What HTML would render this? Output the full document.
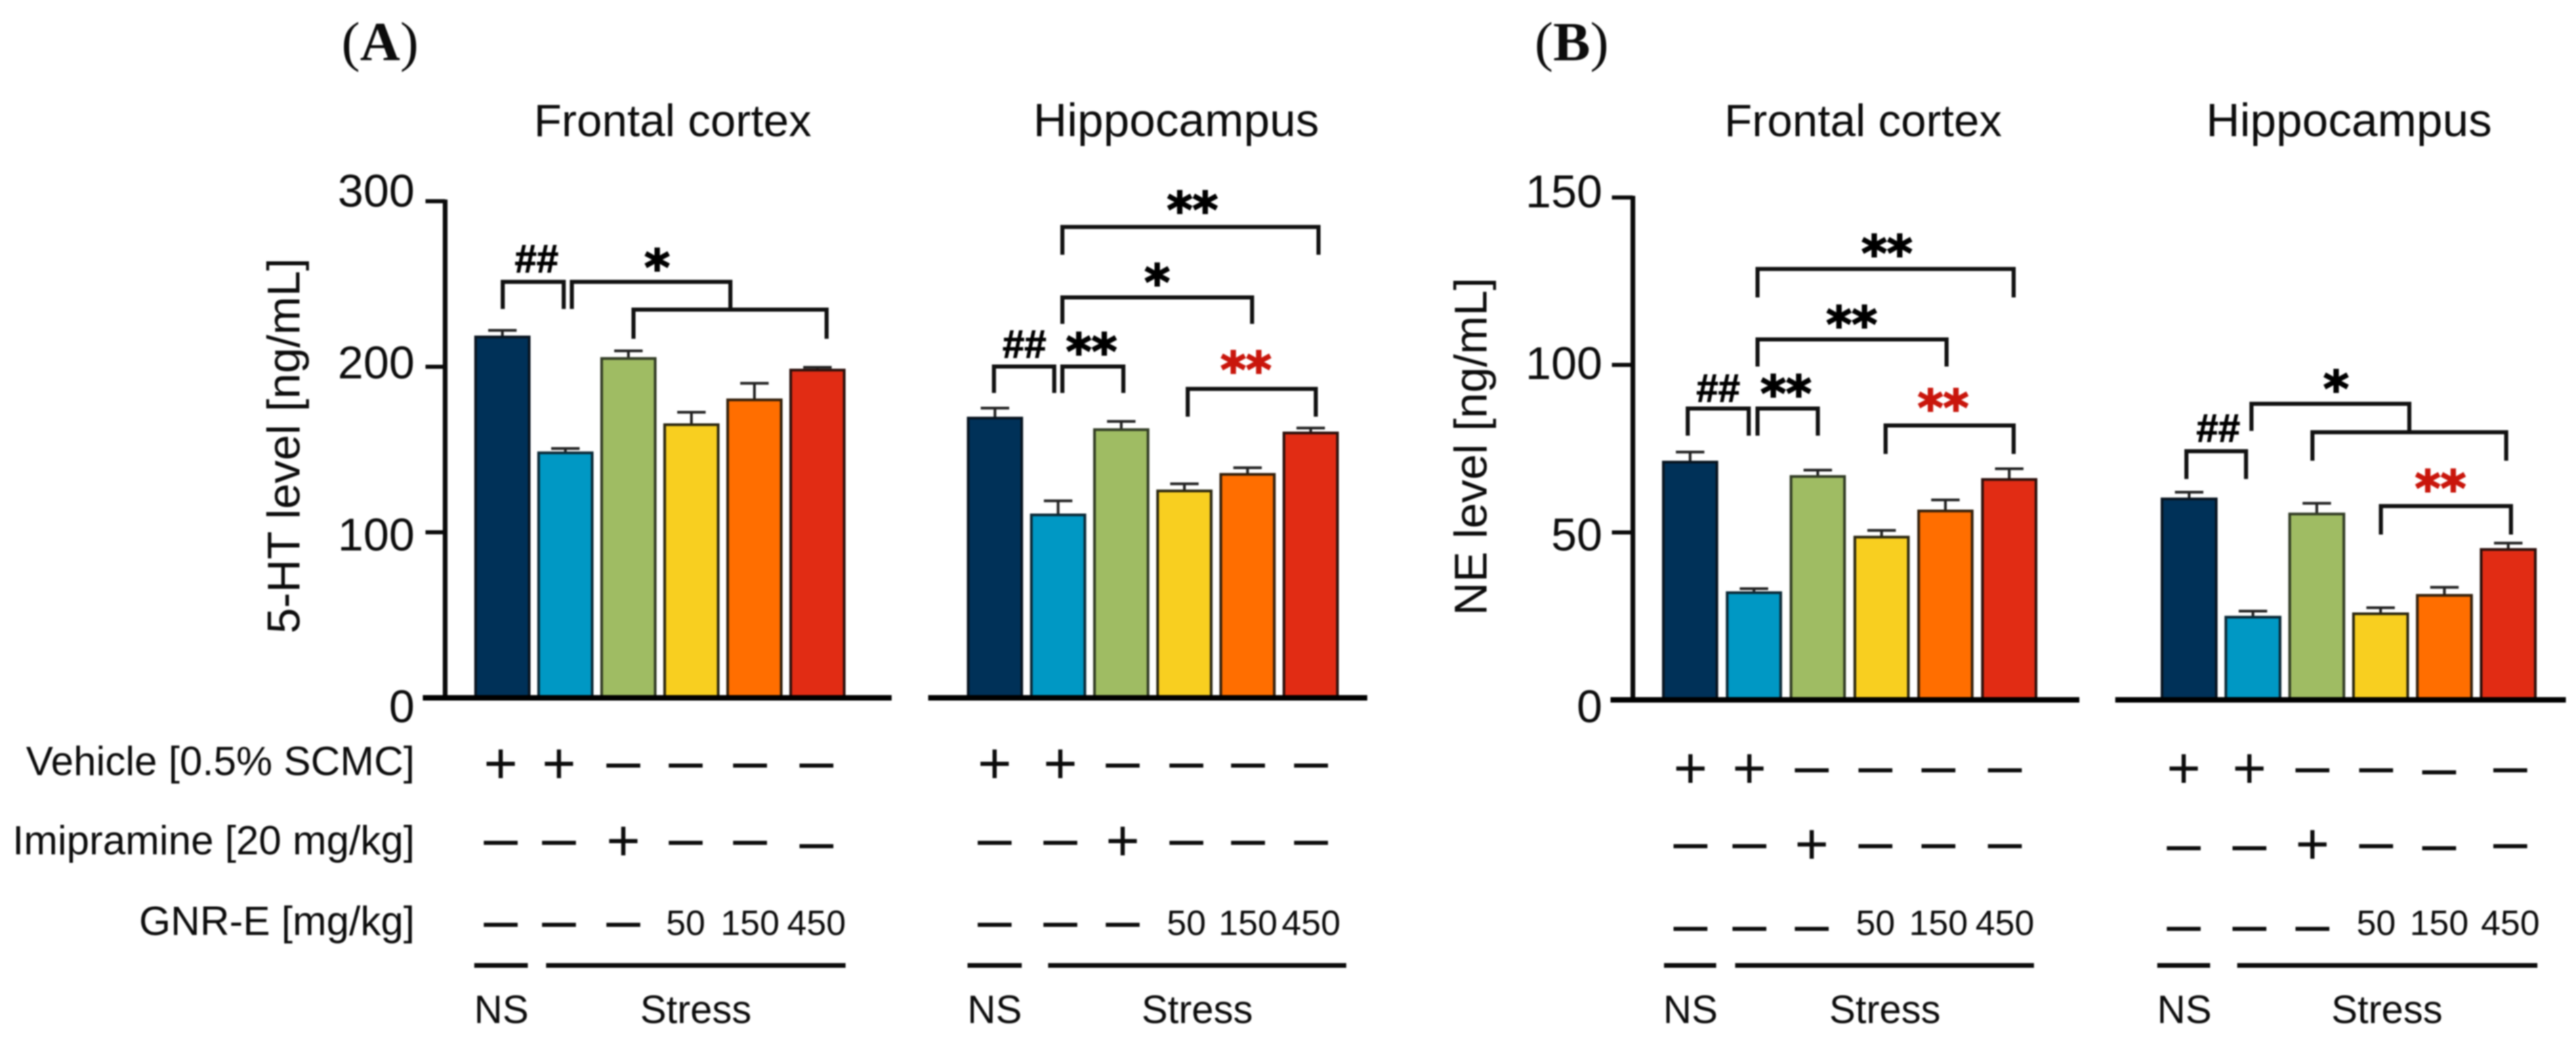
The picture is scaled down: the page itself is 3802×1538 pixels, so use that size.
<!DOCTYPE html>
<html lang="en">
<head>
<meta charset="utf-8">
<title>5-HT and NE levels</title>
<style>
html,body{margin:0;padding:0;background:#fff;}
svg{display:block;filter:blur(1.1px);}
text{font-family:"Liberation Sans",sans-serif;fill:#0c0c0c;}
.br{fill:none;stroke:#111;stroke-width:6;stroke-linejoin:miter;}
.ttl{font-size:67px;}
.lab{font-size:60px;}
.grp{font-size:58px;text-anchor:middle;}
.st{font-family:"DejaVu Sans",sans-serif;font-weight:bold;font-size:72px;text-anchor:middle;fill:#000;stroke:#000;stroke-width:2;}
.st.red{fill:#c9160c;stroke:#c9160c;}
.hh{font-weight:bold;font-size:58px;text-anchor:middle;fill:#000;stroke:#000;stroke-width:1;}
.pl{font-family:"Liberation Serif",serif;font-size:82px;}
.ln{stroke:#0c0c0c;stroke-width:7;}
</style>
</head>
<body>
<svg id="chart" xmlns="http://www.w3.org/2000/svg" width="3802" height="1538" viewBox="0 0 3802 1538">
  <rect x="0" y="0" width="3802" height="1538" fill="#ffffff" style="fill:#fff"/>

  <text class="pl" x="504" y="89">(<tspan font-weight="bold">A</tspan>)</text>
  <text class="pl" x="2265" y="89">(<tspan font-weight="bold">B</tspan>)</text>

  <text class="ttl" x="788" y="201">Frontal cortex</text>
  <text class="ttl" x="1525" y="201" style="font-size:69px">Hippocampus</text>
  <text class="ttl" x="2545" y="201">Frontal cortex</text>
  <text class="ttl" x="3256" y="201" style="font-size:69px">Hippocampus</text>

  <text transform="translate(442,658) rotate(-90)" text-anchor="middle" font-size="68">5-HT level [ng/mL]</text>
  <text transform="translate(2194,659) rotate(-90)" text-anchor="middle" font-size="68">NE level [ng/mL]</text>

  <g id="marks"></g>

  <!-- significance brackets: panel A frontal cortex -->
  <polyline class="br" points="742,456 742,416 832,416 832,456"/>
  <polyline class="br" points="844,456 844,416 1078,416 1078,457"/>
  <polyline class="br" points="935,500 935,457 1220,457 1220,500"/>
  <text class="hh" x="792" y="402">##</text>
  <text class="st" x="970" y="420">*</text>

  <!-- panel A hippocampus -->
  <polyline class="br" points="1568,376 1568,335 1946,335 1946,376"/>
  <polyline class="br" points="1568,478 1568,439 1848,439 1848,478"/>
  <polyline class="br" points="1467,580 1467,541 1556,541 1556,580"/>
  <polyline class="br" points="1568,580 1568,541 1658,541 1658,580"/>
  <polyline class="br" points="1753,615 1753,574 1942,574 1942,615"/>
  <text class="st" x="1760" y="335">**</text>
  <text class="st" x="1708" y="442">*</text>
  <text class="hh" x="1512" y="528">##</text>
  <text class="st" x="1611" y="544">**</text>
  <text class="st red" x="1839" y="571">**</text>

  <!-- panel B frontal cortex -->
  <polyline class="br" points="2594,439 2594,397 2972,397 2972,439"/>
  <polyline class="br" points="2594,541 2594,501 2873,501 2873,541"/>
  <polyline class="br" points="2491,643 2491,603 2581,603 2581,643"/>
  <polyline class="br" points="2594,643 2594,603 2683,603 2683,643"/>
  <polyline class="br" points="2783,670 2783,628 2972,628 2972,670"/>
  <text class="st" x="2785" y="399">**</text>
  <text class="st" x="2733" y="504">**</text>
  <text class="hh" x="2536" y="593">##</text>
  <text class="st" x="2636" y="606">**</text>
  <text class="st red" x="2868" y="627">**</text>

  <!-- panel B hippocampus -->
  <polyline class="br" points="3227,707 3227,666 3315,666 3315,707"/>
  <polyline class="br" points="3323,636 3323,596 3556,596 3556,638"/>
  <polyline class="br" points="3413,680 3413,638 3699,638 3699,680"/>
  <polyline class="br" points="3514,789 3514,747 3706,747 3706,789"/>
  <text class="hh" x="3274" y="652">##</text>
  <text class="st" x="3448" y="599">*</text>
  <text class="st red" x="3602" y="746">**</text>

  <!-- treatment row labels -->
  <text class="lab" x="612" y="1144" text-anchor="end">Vehicle [0.5% SCMC]</text>
  <text class="lab" x="612" y="1261" text-anchor="end">Imipramine [20 mg/kg]</text>
  <text class="lab" x="612" y="1380" text-anchor="end">GNR-E [mg/kg]</text>

  <!-- group underlines and labels -->
  <line class="ln" x1="700" x2="779" y1="1425" y2="1425"/>
  <line class="ln" x1="806" x2="1248" y1="1425" y2="1425"/>
  <line class="ln" x1="1428" x2="1508" y1="1425" y2="1425"/>
  <line class="ln" x1="1547" x2="1987" y1="1425" y2="1425"/>
  <line class="ln" x1="2456" x2="2533" y1="1425" y2="1425"/>
  <line class="ln" x1="2561" x2="3002" y1="1425" y2="1425"/>
  <line class="ln" x1="3184" x2="3262" y1="1425" y2="1425"/>
  <line class="ln" x1="3302" x2="3745" y1="1425" y2="1425"/>

  <text class="grp" x="740" y="1510">NS</text>
  <text class="grp" x="1027" y="1510">Stress</text>
  <text class="grp" x="1468" y="1510">NS</text>
  <text class="grp" x="1767" y="1510">Stress</text>
  <text class="grp" x="2495" y="1510">NS</text>
  <text class="grp" x="2782" y="1510">Stress</text>
  <text class="grp" x="3224" y="1510">NS</text>
  <text class="grp" x="3523" y="1510">Stress</text>
</svg>
<script>
// ---- chart data ----
const categories = ['NS vehicle', 'Stress vehicle', 'Imipramine', 'GNR-E 50', 'GNR-E 150', 'GNR-E 450'];
const htFrontalMeans = [218, 148, 205, 165, 180, 198];
const htFrontalErrors = [4, 2.6, 4.6, 7.5, 10, 1.7];
const htHippocampusMeans = [169, 110.5, 162, 125, 135, 160];
const htHippocampusErrors = [6, 8.5, 5, 4.3, 4, 3];
const neFrontalMeans = [71, 32, 66.7, 48.6, 56.4, 65.8];
const neFrontalErrors = [3, 1.2, 1.9, 2, 3.3, 3.2];
const neHippocampusMeans = [60, 24.7, 55.5, 25.7, 31.2, 44.9];
const neHippocampusErrors = [2, 1.8, 3.2, 1.8, 2.4, 1.9];
const htTickLabels = [0, 100, 200, 300];
const neTickLabels = [0, 50, 100, 150];
const vehicleRow = ['+', '+', '–', '–', '–', '–'];
const imipramineRow = ['–', '–', '+', '–', '–', '–'];
const gnrRow = ['–', '–', '–', '50', '150', '450'];

// ---- layout and axis functions ----
const NS = 'http://www.w3.org/2000/svg';
const root = document.getElementById('marks');
const barColors = ['#003158', '#0098c4', '#9fbc63', '#f8cf20', '#ff6e00', '#e12c14'];
const barStrokes = ['#081420', '#0c2a38', '#333d26', '#2c2812', '#33200c', '#2c100c'];

function htY(v) { return 1030 - v * 733 / 300; }
function neY(v) { return 1033 - v * 741.5 / 150; }
function htLabelY(v) { return 1066 - v * 761 / 300; }
function neLabelY(v) { return 1066 - v * 760 / 150; }
function barLeft(p, i) { return p.x0 + i * p.pitch; }

function make(tag) {
  const el = document.createElementNS(NS, tag);
  root.appendChild(el);
  return el;
}

function drawAxis(key, scale, labelScale, ticks, axisX, tickLeft, labelRight, yEnd) {
  const axis = make('line');
  
  
  axis.setAttribute('x1', axisX);
  axis.setAttribute('x2', axisX);
  axis.setAttribute('y1', scale(ticks[ticks.length - 1]) - 2.5);
  axis.setAttribute('y2', yEnd);
  axis.setAttribute('stroke', '#0a0a0a');
  axis.setAttribute('stroke-width', 7);
  ticks.forEach(function (t) {
    const tick = make('line');
    
    
    tick.setAttribute('x1', tickLeft);
    tick.setAttribute('x2', axisX);
    tick.setAttribute('y1', scale(t));
    tick.setAttribute('y2', scale(t));
    tick.setAttribute('stroke', '#0a0a0a');
    tick.setAttribute('stroke-width', 6);
    const lab = make('text');
    
    
    lab.setAttribute('x', labelRight);
    lab.setAttribute('y', labelScale(t));
    lab.setAttribute('text-anchor', 'end');
    lab.setAttribute('font-size', 68);
    lab.textContent = t;
  });
}

function drawBars(p, means, errors, scale) {
  means.forEach(function (m, i) {
    const x = barLeft(p, i);
    const cx = x + p.width / 2;
    const topY = scale(m);
    const errY = scale(m + errors[i]);

    const stem = make('line');
    
    
    stem.setAttribute('x1', cx);
    stem.setAttribute('x2', cx);
    stem.setAttribute('y1', errY);
    stem.setAttribute('y2', topY);
    stem.setAttribute('stroke', '#222');
    stem.setAttribute('stroke-width', 4);

    const cap = make('line');
    
    
    cap.setAttribute('x1', cx - 21);
    cap.setAttribute('x2', cx + 21);
    cap.setAttribute('y1', errY);
    cap.setAttribute('y2', errY);
    cap.setAttribute('stroke', '#222');
    cap.setAttribute('stroke-width', 4);

    const bar = make('rect');
    
    
    bar.setAttribute('x', x + 2);
    bar.setAttribute('y', topY);
    bar.setAttribute('width', p.width - 4);
    bar.setAttribute('height', scale(0) - topY);
    bar.setAttribute('fill', barColors[i]);
    bar.setAttribute('stroke', barStrokes[i]);
    bar.setAttribute('stroke-width', 4);
  });
}

function drawBaseline(key, x1, x2, y) {
  const base = make('line');
  
  
  base.setAttribute('x1', x1);
  base.setAttribute('x2', x2);
  base.setAttribute('y1', y);
  base.setAttribute('y2', y);
  base.setAttribute('stroke', '#000');
  base.setAttribute('stroke-width', 8);
}

function drawRow(p, rowName, symbols, dashY, numberBase, shifts) {
  symbols.forEach(function (s, i) {
    const t = make('text');
    
    
    t.setAttribute('x', p.cols[i]);
    t.setAttribute('text-anchor', 'middle');
    const dy = shifts[i] || 0;
    if (s === '+') {
      t.setAttribute('font-size', 86);
      t.setAttribute('y', dashY - 3 + 30);
    } else if (s === '–') {
      t.setAttribute('font-size', 90);
      t.setAttribute('y', dashY + dy + 24);
    } else {
      t.setAttribute('font-size', 52);
      t.setAttribute('y', numberBase);
    }
    t.textContent = s;
  });
}

const panelHtFrontal = { key: 'a-frontal', x0: 700, pitch: 93, width: 83, cols: [739, 825, 920, 1012, 1107, 1205] };
const panelHtHippo = { key: 'a-hippocampus', x0: 1427, pitch: 93.2, width: 83, cols: [1468, 1565, 1657, 1751, 1842, 1935] };
const panelNeFrontal = { key: 'b-frontal', x0: 2453, pitch: 94.2, width: 83, cols: [2495, 2582, 2674, 2768, 2861, 2959] };
const panelNeHippo = { key: 'b-hippocampus', x0: 3189, pitch: 94.2, width: 84, cols: [3223, 3320, 3413, 3507, 3600, 3705] };

drawAxis('5ht', htY, htLabelY, htTickLabels, 657, 628, 612, 1030);
drawAxis('ne', neY, neLabelY, neTickLabels, 2410, 2379, 2365, 1033);

drawBars(panelHtFrontal, htFrontalMeans, htFrontalErrors, htY);
drawBars(panelHtHippo, htHippocampusMeans, htHippocampusErrors, htY);
drawBars(panelNeFrontal, neFrontalMeans, neFrontalErrors, neY);
drawBars(panelNeHippo, neHippocampusMeans, neHippocampusErrors, neY);

drawBaseline('a-frontal', 624, 1316, 1030);
drawBaseline('a-hippocampus', 1370, 2018, 1030);
drawBaseline('b-frontal', 2377, 3069, 1033);
drawBaseline('b-hippocampus', 3122, 3787, 1033);

drawRow(panelHtFrontal, 'vehicle', vehicleRow, 1129, 1380, {});
drawRow(panelHtFrontal, 'imipramine', imipramineRow, 1243, 1380, { 5: 5 });
drawRow(panelHtFrontal, 'gnr', gnrRow, 1364, 1380, {});
drawRow(panelHtHippo, 'vehicle', vehicleRow, 1129, 1380, {});
drawRow(panelHtHippo, 'imipramine', imipramineRow, 1243, 1380, {});
drawRow(panelHtHippo, 'gnr', gnrRow, 1364, 1380, {});
drawRow(panelNeFrontal, 'vehicle', vehicleRow, 1136, 1380, {});
drawRow(panelNeFrontal, 'imipramine', imipramineRow, 1248, 1380, {});
drawRow(panelNeFrontal, 'gnr', gnrRow, 1370, 1380, {});
drawRow(panelNeHippo, 'vehicle', vehicleRow, 1136, 1380, { 4: 3 });
drawRow(panelNeHippo, 'imipramine', imipramineRow, 1248, 1380, { 0: 3, 1: 3, 4: 3 });
drawRow(panelNeHippo, 'gnr', gnrRow, 1370, 1380, {});
</script>
</body>
</html>
